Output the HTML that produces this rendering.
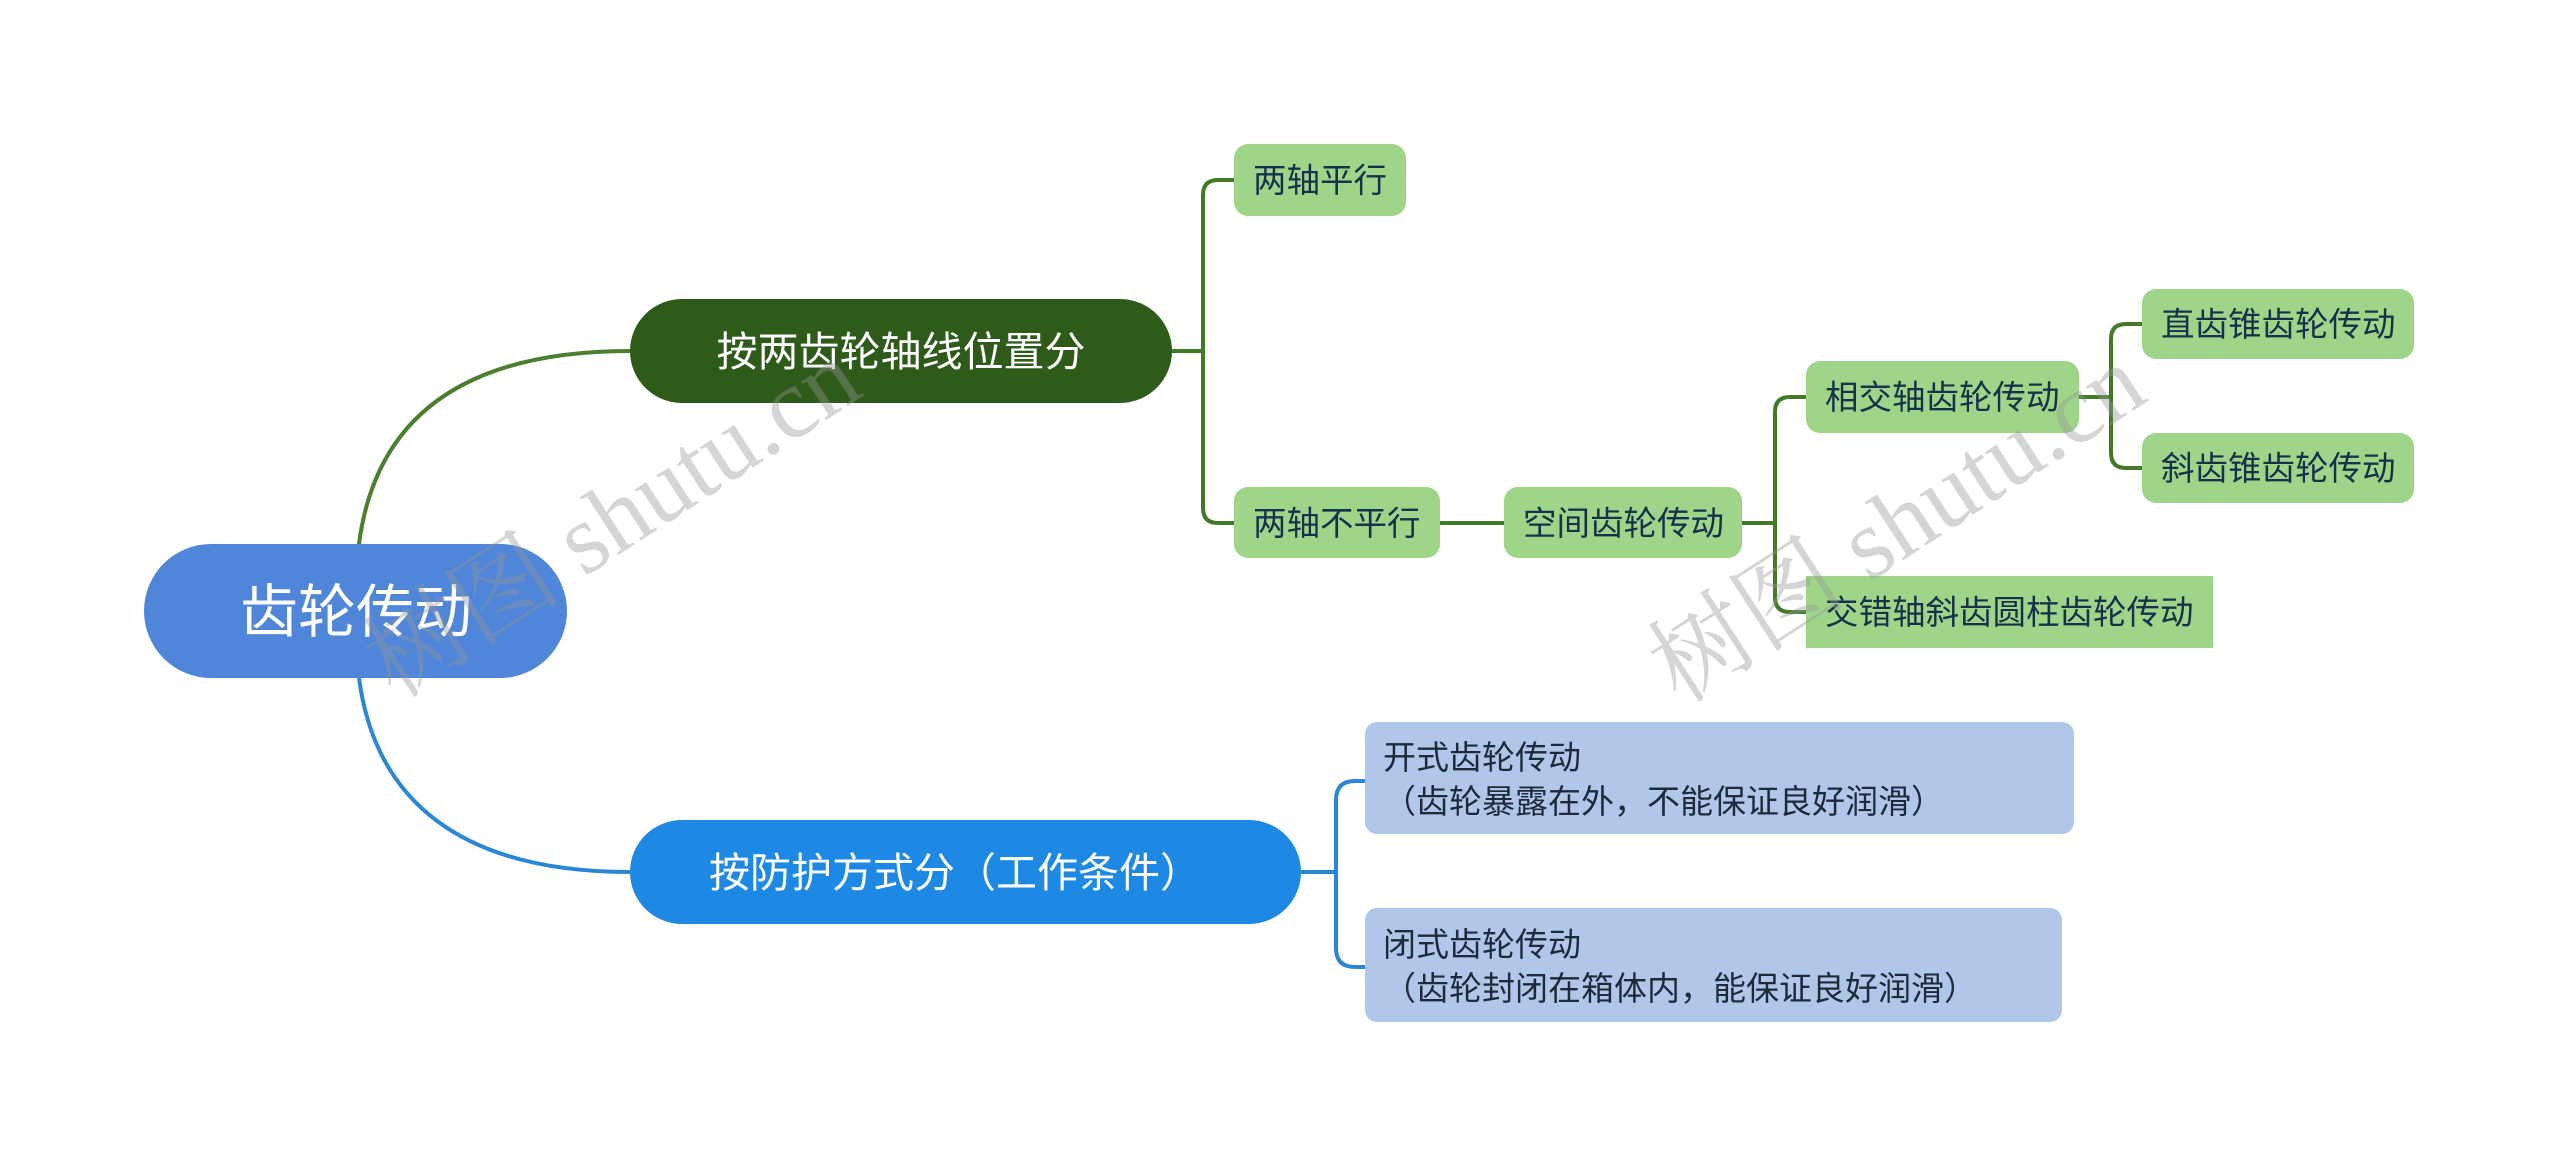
<!DOCTYPE html>
<html><head><meta charset="utf-8"><style>
html,body{margin:0;padding:0;background:#fff;}
svg{display:block;}
text{font-family:"Liberation Sans","Noto Sans CJK SC",sans-serif;}
</style></head><body>
<svg width="2560" height="1167" viewBox="0 0 2560 1167" xmlns="http://www.w3.org/2000/svg">
<rect width="2560" height="1167" fill="#fff"/>
<g fill="none" stroke-width="4">
<path d="M359 544 C 375 420, 460 351, 630 351" stroke="#4a7f2e"/>
<path d="M359 678 C 375 800, 460 872, 630 872" stroke="#2a86d6"/>
<g stroke="#437a28">
<path d="M1172 351 H1203"/>
<path d="M1234 180 H1218 Q1203 180 1203 195 V508 Q1203 523 1218 523 H1234"/>
<path d="M1440 523 H1504"/>
<path d="M1742 523 H1775"/>
<path d="M1806 397 H1790 Q1775 397 1775 412 V597 Q1775 612 1790 612 H1806"/>
<path d="M2079 397 H2111"/>
<path d="M2142 324 H2126 Q2111 324 2111 339 V453 Q2111 468 2126 468 H2142"/>
</g>
<g stroke="#2a86d6">
<path d="M1301 872 H1336"/>
<path d="M1365 781 H1355 Q1336 781 1336 800 V948 Q1336 967 1355 967 H1365"/>
</g>
</g>
<rect x="144" y="544" width="423" height="134" rx="67" fill="#4f86d9"/>
<text x="356" y="632" font-size="58" fill="#fff" text-anchor="middle">齿轮传动</text>
<rect x="630" y="299" width="542" height="104" rx="52" fill="#2e5a1a"/>
<text x="901" y="366" font-size="41" fill="#fff" text-anchor="middle">按两齿轮轴线位置分</text>
<rect x="630" y="820" width="671" height="104" rx="52" fill="#1e88e5"/>
<text x="955" y="887" font-size="41" fill="#fff" text-anchor="middle">按防护方式分（工作条件）</text>
<g fill="#9fd588">
<rect x="1234" y="144" width="172" height="72" rx="14"/>
<rect x="1234" y="487" width="206" height="71" rx="14"/>
<rect x="1504" y="487" width="238" height="71" rx="14"/>
<rect x="1806" y="361" width="273" height="72" rx="14"/>
<rect x="1806" y="576" width="407" height="72" rx="0"/>
<rect x="2142" y="289" width="272" height="70" rx="14"/>
<rect x="2142" y="433" width="272" height="70" rx="14"/>
</g>
<g font-size="33.5" fill="#16324a">
<text x="1253" y="192">两轴平行</text>
<text x="1253" y="535">两轴不平行</text>
<text x="1523" y="535">空间齿轮传动</text>
<text x="1825" y="409">相交轴齿轮传动</text>
<text x="1825" y="624">交错轴斜齿圆柱齿轮传动</text>
<text x="2161" y="336">直齿锥齿轮传动</text>
<text x="2161" y="480">斜齿锥齿轮传动</text>
</g>
<rect x="1365" y="722" width="709" height="112" rx="12" fill="#b1c7ea"/>
<rect x="1365" y="908" width="697" height="114" rx="12" fill="#b1c7ea"/>
<g font-size="33" fill="#1c2a3a">
<text x="1383" y="769">开式齿轮传动</text>
<text x="1383" y="813">（齿轮暴露在外，不能保证良好润滑）</text>
<text x="1383" y="956">闭式齿轮传动</text>
<text x="1383" y="1000">（齿轮封闭在箱体内，能保证良好润滑）</text>
</g>
<g fill="rgba(150,150,150,0.4)" font-size="100">
<text transform="translate(395 700) rotate(-33)" style="font-family:'Liberation Serif','Noto Serif CJK SC',serif">树图 shutu.cn</text>
<text transform="translate(1680 705) rotate(-33)" style="font-family:'Liberation Serif','Noto Serif CJK SC',serif">树图 shutu.cn</text>
</g>
</svg>
</body></html>
